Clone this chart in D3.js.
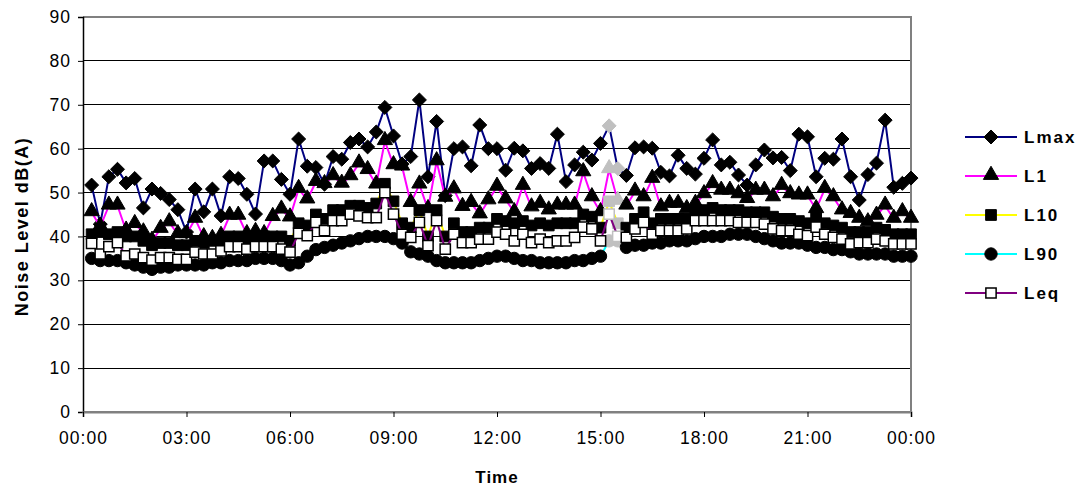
<!DOCTYPE html>
<html>
<head>
<meta charset="utf-8">
<script src="https://cdn.jsdelivr.net/npm/d3@7"></script>
<style>
  html, body { margin: 0; padding: 0; background: #fff; }
  svg { display: block; }
  text { font-family: "Liberation Sans", Arial, sans-serif; fill: #000; }
</style>
</head>
<body>
<svg id="chart" width="1084" height="489"></svg>
<script>
// ---- data (15-minute readings, 00:15 .. 24:00) ----
const xTickLabels = ["00:00","03:00","06:00","09:00","12:00","15:00","18:00","21:00","00:00"];
const xTickHours = [0,3,6,9,12,15,18,21,24];
const yTicks = [0,10,20,30,40,50,60,70,80,90];
const seriesNames = ["Lmax","L1","L10","L90","Leq"];
const highlightIdx = [60, 61]; // 15:15, 15:30 shown in grey

const Lmax = [51.7,42.8,53.6,55.3,52.2,53.2,46.5,50.8,49.8,48.4,46.1,41,50.8,45.6,50.8,44.7,
  53.6,53.2,49.6,45.1,57.2,57.2,53,49.6,62.2,56,55.7,51.9,58.2,57.6,61.4,62.2,
  60.4,63.8,69.4,62.9,56.5,58.2,71.1,53.6,66.2,49.3,60,60.4,56.1,65.4,60,60,
  55.1,60.1,59.5,55.5,56.6,55.5,63.3,52.5,56.3,59.2,57.4,61.2,65.2,55.5,53.9,60.2,
  60.4,60.1,54.6,53.8,58.5,55.5,54.2,57.8,62,56.3,56.9,54,51.7,56.3,59.7,57.9,
  58,55,63.3,62.7,53.6,57.8,57.6,62.2,53.6,48.3,54.1,56.7,66.5,51.2,52.1,53.3];

const L1 = [45.5,42.2,47,47,41.3,42.8,40.9,39,41.7,43.2,40.5,40.5,44,39.8,39.4,40.1,
  44.7,44.7,40.5,41,40.5,44.4,46.1,44.3,50.8,48.4,52.4,51.9,53.7,52,53.7,56.6,
  55.1,51.8,61.7,56.2,55.9,47.6,51.8,46.2,57.1,48.8,50.7,46.7,47.6,45,48.2,51.3,
  48.4,45.5,51.5,46.6,47.4,45.9,47,47,47,54.6,48.9,45.5,55.3,48.1,47,50.2,
  48.9,53.1,46.6,47.4,47.4,46.2,47.4,49.6,51.9,50.4,50.4,49.6,48.5,50.4,50.4,48.9,
  51.5,49.6,49.3,49.3,46.2,50.8,48.9,45.9,45.1,44,43.2,44.7,47,44,45.5,44];

const L10 = [40.5,41,40.5,41,40,40,39,38,38.5,38.5,38,38,39,38.5,39,39,
  40,40,39.5,40,40,40,40,39,43,42.5,45,44,46,46,47,47,
  46.5,47.5,52,48,43,42,46,40,46,40,43,41,41,42,42,44,
  43.5,43,43.5,42.5,43,42.5,43,43,43,45,44.5,42,48,43,42,44,
  45.5,43,44,44,44,44,46,46,46.5,46,46,46,45.5,45.5,45.5,44.5,
  44,44,43.5,43,44.5,43,42.5,42,41,41,41,42,41.5,40.5,40.5,40.5];

const L90 = [35,34.5,34.5,34.5,34,33.5,33,32.5,33,33,33.5,33.5,33.5,33.5,34,34,
  34.5,34.5,34.5,35,35,35,34.5,33.5,34,35.5,37,37.5,38,38.5,39,39.5,
  40,40,40,39.5,38.5,36.5,36,35.5,34.5,34,34,34,34,34.5,35,35.5,
  35.5,35,34.5,34.5,34,34,34,34,34.5,34.5,35,35.5,39,39,37.5,38,
  38,38.5,38.5,39,39,39,39.5,40,40,40,40.5,40.5,40.5,40,39.5,39,
  38.5,38.5,38.5,38,37.5,37.5,37,37,36.5,36,36,36,36,35.5,35.5,35.5];

const Leq = [38.4,36,37.7,38.6,35.6,36,35.2,34.6,35.2,35.2,34.8,34.8,36.4,36,36,36.7,
  37.7,37.7,37.1,37.7,37.7,37.7,37.1,36.4,40.7,40.2,43.2,41.3,43.6,43.6,45.1,44.7,
  44.3,44.3,50,45.1,40.5,39.8,43.2,37.9,43.6,37.1,40.5,38.6,38.6,39.4,39.4,41,
  40.5,39,40.5,38.6,39.4,38.6,39,39,39.8,42.1,41.7,39,45.1,40,39.8,41.7,
  43.2,40.5,41.3,41.3,41.3,41.7,43.6,43.6,43.6,43.6,43.6,43.2,43.2,43.2,42.8,41.7,
  41.3,41.3,40.5,40.2,42.1,40.5,39.8,39.4,38.3,38.6,38.6,39.4,39,38.3,38.3,38.3];

// ---- layout ----
const svg = d3.select("#chart");
const pLeft = 83, pRight = 911, pTop = 17, pBottom = 412;
const x = d3.scaleLinear().domain([0, 24]).range([pLeft, pRight]);
const y = d3.scaleLinear().domain([0, 90]).range([pBottom, pTop]);
const hours = Lmax.map((_, i) => (i + 1) * 0.25);

// gridlines
svg.append("g").selectAll("line").data(yTicks.filter(t => t > 0 && t < 90)).join("line")
  .attr("x1", pLeft).attr("x2", pRight)
  .attr("y1", d => y(d)).attr("y2", d => y(d))
  .attr("stroke", "#000").attr("stroke-width", 1).attr("shape-rendering", "crispEdges");

// plot frame (top/right/bottom grey)
svg.append("path")
  .attr("d", `M${pLeft},${y(90)}H${pRight}V${y(0)}H${pLeft}`)
  .attr("fill", "none").attr("stroke", "#808080").attr("stroke-width", 2).attr("shape-rendering", "crispEdges");

// axes
const yAxis = d3.axisLeft(y).tickValues(yTicks).tickSize(5).tickPadding(7);
const gy = svg.append("g").attr("transform", `translate(${pLeft},0)`).call(yAxis);
gy.select(".domain").attr("stroke", "#000").attr("stroke-width", 1.5);
gy.selectAll(".tick line").attr("stroke", "#000");
gy.selectAll(".tick text").attr("font-size", 17.5).attr("font-family", "Liberation Sans, Arial, sans-serif").attr("letter-spacing", "1px");

const xAxis = d3.axisBottom(x).tickValues(xTickHours).tickFormat((d, i) => xTickLabels[i]).tickSize(5).tickPadding(15);
const gx = svg.append("g").attr("transform", `translate(0,${pBottom})`).call(xAxis);
gx.select(".domain").attr("stroke", "#808080").attr("stroke-width", 2);
gx.selectAll(".tick line").attr("stroke", "#000");
gx.selectAll(".tick text").attr("font-size", 17.5).attr("font-family", "Liberation Sans, Arial, sans-serif").attr("letter-spacing", "1px");

// axis titles
svg.append("text").attr("x", 497).attr("y", 483).attr("text-anchor", "middle")
  .attr("font-size", 17).attr("font-weight", "bold").attr("letter-spacing", "1px").text("Time");
svg.append("text").attr("transform", `translate(28,${(pTop + pBottom) / 2 + 12}) rotate(-90)`)
  .attr("text-anchor", "middle").attr("font-size", 18).attr("font-weight", "bold")
  .attr("letter-spacing", "1.5px").text("Noise Level dB(A)");

// ---- series ----
const seriesData = { Lmax, L1, L10, L90, Leq };
const lineColors = { Lmax: "#000080", L1: "#FF00FF", L10: "#FFFF00", L90: "#00FFFF", Leq: "#800080" };
const markerType = {
  Lmax: d3.symbolDiamond2, L1: d3.symbolTriangle, L10: d3.symbolSquare, L90: d3.symbolCircle, Leq: d3.symbolSquare
};
const markerSize = { Lmax: 125, L1: 100, L10: 115, L90: 120, Leq: 105 };

function drawMarker(g, name, cx, cy, grey) {
  const sym = d3.symbol().type(markerType[name]).size(markerSize[name]);
  let fill = grey ? "#c0c0c0" : "#000";
  let stroke = grey ? "#c0c0c0" : "#000";
  if (name === "Leq") fill = "#fff";
  let dy = 0;
  if (name === "L1") dy = -1;
  g.append("path").attr("d", sym())
    .attr("transform", `translate(${cx},${cy + dy})`)
    .attr("fill", fill).attr("stroke", stroke).attr("stroke-width", name === "Leq" ? 1.5 : 1);
}

const plot = svg.append("g");
seriesNames.forEach(name => {
  const vals = seriesData[name];
  const line = d3.line().x((d, i) => x(hours[i])).y(d => y(d));
  plot.append("path").datum(vals).attr("d", line)
    .attr("fill", "none").attr("stroke", lineColors[name]).attr("stroke-width", 2);
  const mg = plot.append("g");
  vals.forEach((v, i) => drawMarker(mg, name, x(hours[i]), y(v), highlightIdx.includes(i)));
});

// ---- legend ----
const legendY = [137, 176, 215, 254, 293];
const lg = svg.append("g");
seriesNames.forEach((name, i) => {
  const ly = legendY[i];
  lg.append("line").attr("x1", 965).attr("x2", 1017).attr("y1", ly).attr("y2", ly)
    .attr("stroke", lineColors[name]).attr("stroke-width", 2);
  drawMarker(lg, name, 991, ly, false);
  lg.append("text").attr("x", 1024).attr("y", ly + 6).attr("font-size", 17)
    .attr("font-weight", "bold").attr("letter-spacing", "2px").text(name);
});
</script>
</body>
</html>
